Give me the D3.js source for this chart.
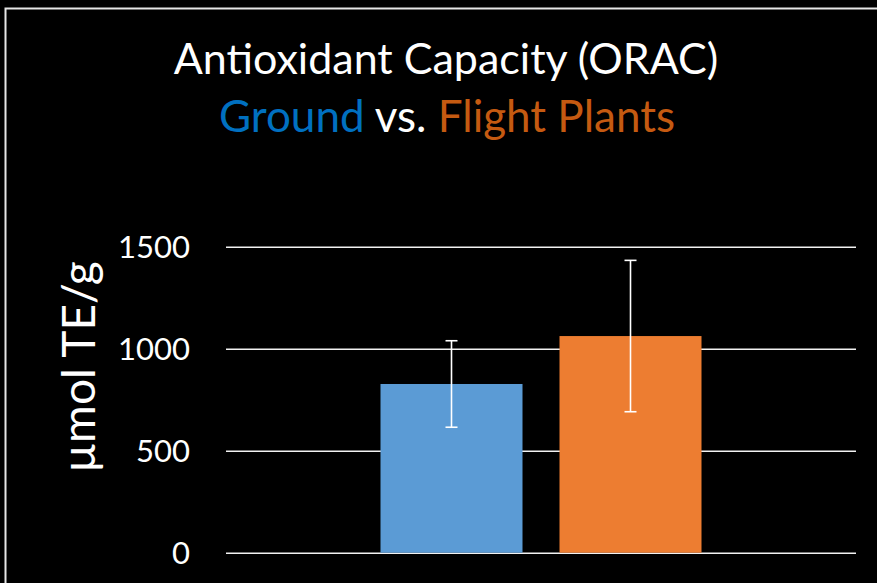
<!DOCTYPE html>
<html>
<head>
<meta charset="utf-8">
<script src="https://cdn.jsdelivr.net/npm/d3@7"></script>
<style>
  html, body { margin: 0; padding: 0; background: #000; }
  svg { display: block; }
</style>
</head>
<body>
<svg></svg>
<script>
let series = ["Ground", "Flight"];
let values = [827, 1062];
let errors = [212, 371];
let colors = ["#5B9BD5", "#ED7D31"];
let yTicks = [0, 500, 1000, 1500];

let width = 877;
let height = 583;
let plotLeft = 226, plotRight = 856, plotTop = 246.7, plotBottom = 552.7;
let font = "Lato, 'Open Sans', sans-serif";

let svg = d3.select("svg").attr("width", width).attr("height", height);

svg.append("rect").attr("width", width).attr("height", height).attr("fill", "#000");

// frame
svg.append("path")
  .attr("d", "M5.5," + height + "V8.5H" + width)
  .attr("fill", "none")
  .attr("stroke", "#e6e6e6")
  .attr("stroke-width", 2);

let yScale = d3.scaleLinear().domain([0, 1500]).range([plotBottom, plotTop]);

// one category, two series centred in the plot
let groupWidth = 321;
let cx = (plotLeft + plotRight) / 2;
let xScale = d3.scaleBand()
  .domain(series)
  .range([cx - groupWidth / 2, cx + groupWidth / 2])
  .paddingInner(0.2067)
  .paddingOuter(0);

// gridlines + labels
let yAxis = d3.axisLeft(yScale)
  .tickValues(yTicks)
  .tickSize(-(plotRight - plotLeft))
  .tickPadding(36)
  .tickFormat(d3.format("d"));

let gy = svg.append("g")
  .attr("transform", "translate(" + plotLeft + ",0)")
  .call(yAxis);
gy.select(".domain").remove();
gy.selectAll(".tick line").attr("stroke", "#f2f2f2").attr("stroke-width", 1.5);
gy.selectAll(".tick text")
  .attr("fill", "#fff")
  .attr("font-family", font)
  .attr("font-size", 31)
  .attr("dy", "0.35em");

// bars
svg.selectAll("rect.bar")
  .data(series)
  .enter()
  .append("rect")
  .attr("class", "bar")
  .attr("x", (d) => xScale(d))
  .attr("width", xScale.bandwidth())
  .attr("y", (d, i) => yScale(values[i]))
  .attr("height", (d, i) => yScale(0) - yScale(values[i]))
  .attr("fill", (d, i) => colors[i]);

// error bars
let eb = svg.selectAll("g.err")
  .data(series)
  .enter()
  .append("g")
  .attr("class", "err")
  .attr("stroke", "#fff")
  .attr("stroke-width", 1.6);
let capW = 6;
eb.append("line")
  .attr("x1", (d) => xScale(d) + xScale.bandwidth() / 2)
  .attr("x2", (d) => xScale(d) + xScale.bandwidth() / 2)
  .attr("y1", (d, i) => yScale(values[i] + errors[i]))
  .attr("y2", (d, i) => yScale(values[i] - errors[i]));
eb.append("line")
  .attr("x1", (d) => xScale(d) + xScale.bandwidth() / 2 - capW)
  .attr("x2", (d) => xScale(d) + xScale.bandwidth() / 2 + capW)
  .attr("y1", (d, i) => yScale(values[i] + errors[i]))
  .attr("y2", (d, i) => yScale(values[i] + errors[i]));
eb.append("line")
  .attr("x1", (d) => xScale(d) + xScale.bandwidth() / 2 - capW)
  .attr("x2", (d) => xScale(d) + xScale.bandwidth() / 2 + capW)
  .attr("y1", (d, i) => yScale(values[i] - errors[i]))
  .attr("y2", (d, i) => yScale(values[i] - errors[i]));

// titles
svg.append("text")
  .attr("x", 446)
  .attr("y", 74)
  .attr("text-anchor", "middle")
  .attr("font-family", font)
  .attr("font-size", 43)
  .attr("fill", "#fff")
  .text("Antioxidant Capacity (ORAC)");

let sub = svg.append("text")
  .attr("x", 447)
  .attr("y", 132)
  .attr("text-anchor", "middle")
  .attr("font-family", font)
  .attr("font-size", 44);
sub.append("tspan").attr("fill", "#0070C0").text("Ground");
sub.append("tspan").attr("fill", "#fff").text(" vs. ");
sub.append("tspan").attr("fill", "#C55A11").text("Flight Plants");

// y axis title
svg.append("text")
  .attr("transform", "translate(95,367) rotate(-90)")
  .attr("text-anchor", "middle")
  .attr("font-family", font)
  .attr("font-size", 46)
  .attr("fill", "#fff")
  .text("µmol TE/g");
</script>
</body>
</html>
